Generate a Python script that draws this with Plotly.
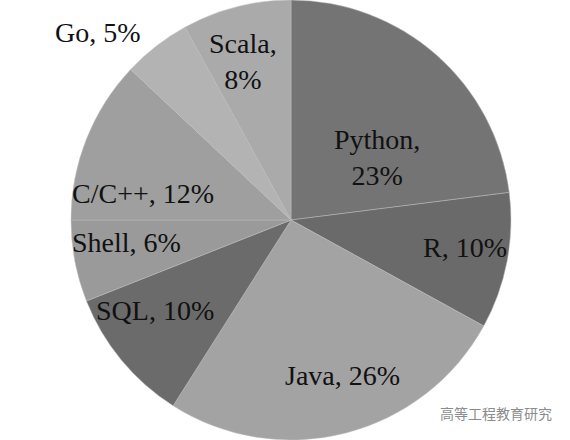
import plotly.graph_objects as go

languages = ["Python", "R", "Java", "SQL", "Shell", "C/C++", "Go", "Scala"]
shares = [23, 10, 26, 10, 6, 12, 5, 8]
label_texts = ["Python,<br>23%", "R, 10%", "Java, 26%", "SQL, 10%",
               "Shell, 6%", "C/C++, 12%", "Go, 5%", "Scala,<br>8%"]

slice_colors = ["#747474", "#6a6a6a", "#a3a3a3", "#6b6b6b",
                "#9a9a9a", "#9f9f9f", "#b3b3b3", "#aaaaaa"]
# label centres in pixels (x, y from top)
label_px = [(377, 157), (465, 247), (342, 375), (155, 310),
            (126, 242), (143, 193), (98, 33), (243, 62)]

W, H = 570, 440
cx, cy, r = 291, 220, 220

fig = go.Figure(go.Pie(
    labels=languages,
    values=shares,
    sort=False,
    direction="clockwise",
    rotation=0,
    textinfo="none",
    hoverinfo="label+percent",
    marker=dict(colors=slice_colors, line=dict(color="#bdbdbd", width=0.5)),
    domain=dict(x=[(cx - r) / W, (cx + r) / W], y=[max(0, 1 - (cy + r) / H), min(1, 1 - (cy - r) / H)]),
    showlegend=False,
))

for txt, (px, py) in zip(label_texts, label_px):
    fig.add_annotation(x=px / W, y=1 - py / H, xref="paper", yref="paper",
                       text=txt, showarrow=False,
                       font=dict(family="Liberation Serif", size=28, color="#111111"),
                       xanchor="center", yanchor="middle", align="center")

fig.add_annotation(x=496 / W, y=1 - 413 / H, xref="paper", yref="paper",
                   text="高等工程教育研究", showarrow=False,
                   font=dict(family="Noto Sans CJK SC", size=14, color="#8c8c8c"),
                   xanchor="center", yanchor="middle")

fig.update_layout(width=W, height=H, margin=dict(l=0, r=0, t=0, b=0),
                  paper_bgcolor="white", plot_bgcolor="white")

fig.write_html("out.html", config={"displayModeBar": False},
               post_script="document.body.style.margin='0';document.body.style.overflow='hidden';")
